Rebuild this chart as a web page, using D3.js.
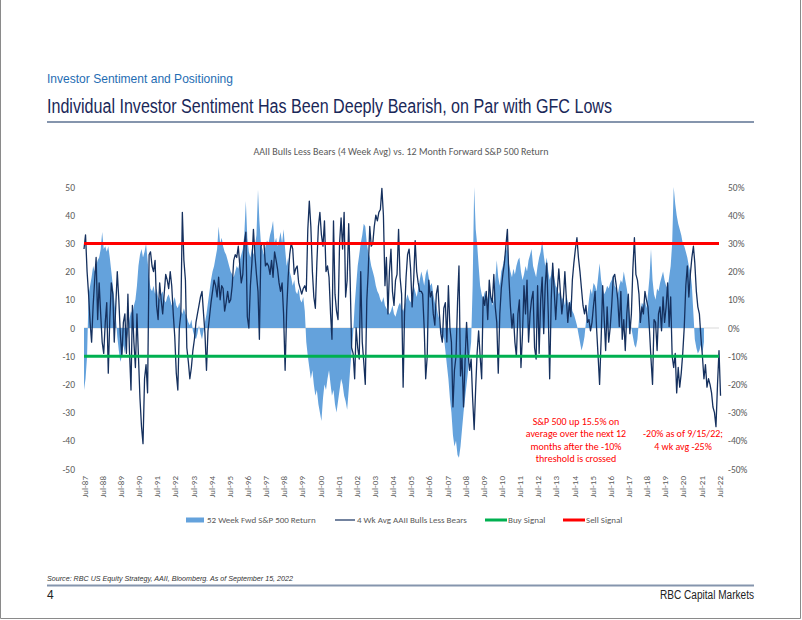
<!DOCTYPE html>
<html><head><meta charset="utf-8">
<script src="https://cdn.jsdelivr.net/npm/d3@7"></script>
<style>
html,body{margin:0;padding:0;background:#fff;}
svg{display:block;}
</style></head><body>
<svg id="chart" width="802" height="620"></svg>
<script>
// ---------------- DATA ----------------
const seriesStart = "1987-07"; // monthly series start
// 52 week forward S&P 500 return (%), monthly from Jul-87
const fwdReturn = [
-22,-18,-10,12,15,18,22,20,22,24,25,28,34,28,29,27,29,25,20,15,10,
4,-3,-8,-12,-10,-6,-9,-5,-2,3,6,5,8,10,15,
22,26,28,25,27,30,24,18,14,
13,15,12,14,11,10,12,13,10,9,11,12,10,8,9,11,8,7,9,6,5,7,5,4,
2,1,3,-1,-3,-4,-2,1,-2,-4,-1,2,5,
9,13,17,20,22,25,28,
36,30,32,29,27,26,24,22,20,19,
18,20,22,21,24,26,28,33,45,
32,27,25,28,26,29,33,49,38,
30,28,26,29,31,30,
33,35,38,30,32,29,31,34,30,
35,28,22,25,20,18,
15,17,13,12,14,10,9,11,6,
-5,-10,-14,-18,-15,-20,-24,-22,-27,-30,-33,-25,-20,-22,-18,-15,-20,-24,-22,-27,-30,-26,-22,-18,-20,-24,-26,-29,-22,-15,-8,-2,
8,15,22,26,30,33,37,36,30,27,25,22,20,18,15,13,12,10,9,11,8,7,6,5,6,8,5,4,6,8,9,7,6,8,10,12,10,9,12,15,13,11,14,17,20,18,15,19,21,18,15,16,12,9,8,5,3,-1,-5,-3,-8,-13,-18,-25,-30,-38,-42,-40,-45,-46,-42,-36,-30,
-25,-20,-15,-10,-5,15,50,35,30,22,
15,12,10,13,9,11,14,12,8,10,17,24,18,15,20,
22,25,27,29,23,20,18,21,19,22,24,25,20,17,19,22,20,24,26,28,22,20,18,22,25,27,31,26,22,25,20,17,19,23,18,15,14,12,
13,10,11,8,12,9,7,10,6,5,3,1,-2,
-5,-8,-6,-3,2,
5,10,14,12,16,15,13,18,23,17,14,12,13,15,14,16,17,19,15,14,12,15,17,16,20,17,14,10,
4,0,-3,-6,-7,-4,
3,6,9,8,10,7,12,18,28,17,
12,10,14,13,16,18,20,17,15,14,18,22,30,
50,44,40,37,35,33,30,29,27,25,22,20,15,5,
-4,-7,-9,-8,-6,-9,-5
];
// 4 week average AAII bulls less bears, monthly from Jul-87
const bullsLessBears = [
28,33,20,12,2,-5,8,17,25,3,16,5,-5,-9,2,9,-16,3,16,12,-5,8,20,10,-2,-10,2,5,-9,12,-8,-22,8,-5,-14,5,-10,-25,-35,-41,-18,-13,-23,26,27,22,20,24,8,3,16,10,5,12,19,17,14,20,15,5,-3,-16,-22,0,5,41,24,17,-7,-12,-18,-14,-8,-4,2,5,8,11,13,5,-2,-15,-1,
4,9,13,17,15,11,18,10,15,14,6,9,13,9,10,15,24,26,25,29,22,16,19,30,34,4,0,15,23,35,26,19,13,-4,29,30,30,22,23,22,19,24,18,27,24,21,16,13,16,5,-15,6,18,26,30,28,19,21,22,16,14,12,14,15,13,35,45,36,20,11,7,23,36,41,33,29,38,20,22,18,5,-4,38,12,
6,3,30,39,28,41,11,17,37,18,-7,-9,-18,0,-7,-11,20,-5,-12,-20,10,20,36,29,30,36,40,38,41,42,49.5,40,15,25,5,20,28,13,8,17,19,35,18,12,-21,5,18,26,28,21,7.5,17,31,20,16,13,13,12,0,-18,-10,17,11,13,5,1,12,15,5,-2,-5,7,9,-5,15,0,-5,-28,-15,-10,9,
22,-17,-10,-28,-12,2,-9,-15,-11,-25,-36,-21,-9,-1,-10,-18,11,
8,13,3,17,11,9,19,7.5,2,-16,5,14,19,23,29,35,18,7.5,0,5,-5,-10,5,10,-14,-2,15,5,17,-5,5,10,13,-7,-11,15,-9,10,18,-2,15,23,5,-18,10,23,13,3,13,21,13,5,10,20,10,2,9,4,17,23,28,32,25,20,14,8,5,8,2,3,-1,
2,8,13,0,-10,-20,-4,15,4,-8,7.5,-5,0,8,18,19,15,10,0.5,13,-4,3,-8,5,12,-2,5,21,32,19,17,12,2,7.5,5,13,10,7.5,-1,-11,-20,3,2,-8,5,7.5,-1,11,2,7.5,16,0.5,11,-10,-14,-9,-23,-14,-21,-16,-9,0.5,15,22,11,19,25,29,23,13,7.5,5,-3,-10,-18,-13,-21,-18,-20,-23,-28,-30,-35,-20,-8,-24
];
const xTickLabels = ["Jul-87","Jul-88","Jul-89","Jul-90","Jul-91","Jul-92","Jul-93","Jul-94","Jul-95","Jul-96","Jul-97","Jul-98","Jul-99","Jul-00","Jul-01","Jul-02","Jul-03","Jul-04","Jul-05","Jul-06","Jul-07","Jul-08","Jul-09","Jul-10","Jul-11","Jul-12","Jul-13","Jul-14","Jul-15","Jul-16","Jul-17","Jul-18","Jul-19","Jul-20","Jul-21","Jul-22"];
const yTicks = [50,40,30,20,10,0,-10,-20,-30,-40,-50];
const buySignal = -10;
const sellSignal = 30;
const legendLabels = ["52 Week Fwd S&P 500 Return","4 Wk Avg AAII Bulls Less Bears","Buy Signal","Sell Signal"];
const noteLeft = ["S&P 500 up 15.5% on","average over the next 12","months after the -10%","threshold is crossed"];
const noteRight = ["-20% as of 9/15/22;","4 wk avg -25%"];
const chartTitle = "AAII Bulls Less Bears (4 Week  Avg) vs. 12 Month Forward S&P 500 Return";
const sectionLabel = "Investor Sentiment and Positioning";
const headline = "Individual Investor Sentiment Has Been Deeply Bearish, on Par with GFC Lows";
const sourceNote = "Source: RBC US Equity Strategy, AAII, Bloomberg. As of September 15, 2022";
const pageNumber = "4";
const brand = "RBC Capital Markets";

// ---------------- DRAW ----------------
const svg = d3.select("#chart");
const chartFont = "Carlito, Lato, 'Open Sans', sans-serif";
const headFont = "'Liberation Sans Narrow','Arial Narrow','Liberation Sans',Arial,sans-serif";
const grey = "#595959";
const areaColor = "#64a2dc";
const lineColor = "#15305e";

// page frame
svg.append("path").attr("d","M0.5,0 V618.5 H800.5 V0").attr("fill","none").attr("stroke","#8a8a8a").attr("stroke-width",1);

// header
svg.append("text").attr("x",47).attr("y",83).text(sectionLabel)
  .attr("font-family",headFont).attr("font-size",13.5).attr("fill","#1f6db3")
  .attr("textLength",186).attr("lengthAdjust","spacingAndGlyphs");
svg.append("text").attr("x",47).attr("y",112.5).text(headline)
  .attr("font-family",headFont).attr("font-size",19.5).attr("fill","#1a2859")
  .attr("textLength",565).attr("lengthAdjust","spacingAndGlyphs");
svg.append("line").attr("x1",47).attr("x2",754).attr("y1",122).attr("y2",122).attr("stroke","#8595ad").attr("stroke-width",2);

// footer
svg.append("text").attr("x",47).attr("y",581).text(sourceNote)
  .attr("font-family",headFont).attr("font-size",8).attr("font-style","italic").attr("fill","#333")
  .attr("textLength",246).attr("lengthAdjust","spacingAndGlyphs");
svg.append("line").attr("x1",47).attr("x2",754).attr("y1",585.5).attr("y2",585.5).attr("stroke","#8595ad").attr("stroke-width",2);
svg.append("text").attr("x",47).attr("y",599).text(pageNumber)
  .attr("font-family",headFont).attr("font-size",12).attr("fill","#222");
svg.append("text").attr("x",754).attr("y",599).attr("text-anchor","end").text(brand)
  .attr("font-family",headFont).attr("font-size",12).attr("fill","#222")
  .attr("textLength",94).attr("lengthAdjust","spacingAndGlyphs");

// chart title
svg.append("text").attr("x",401).attr("y",155).attr("text-anchor","middle").text(chartTitle)
  .attr("font-family",chartFont).attr("font-size",10).attr("fill",grey);

// scales
const parseMonth = d3.timeParse("%Y-%m");
const t0 = parseMonth(seriesStart);
const monthDate = i => d3.timeMonth.offset(t0, i);
const parseTick = d3.timeParse("%b-%y");
const tickDates = xTickLabels.map(parseTick);
const x = d3.scaleTime().domain([tickDates[0], tickDates[tickDates.length-1]]).range([84, 719]);
const y = d3.scaleLinear().domain([-50, 50]).range([469, 187]);

// zero line
svg.append("line").attr("x1",x.range()[0]).attr("x2",x.range()[1]).attr("y1",y(0)).attr("y2",y(0))
  .attr("stroke","#d9d9d9").attr("stroke-width",1);

// area
const area = d3.area().x((d,i)=>x(monthDate(i))).y0(y(0)).y1(d=>y(d));
svg.append("path").datum(fwdReturn).attr("d",area).attr("fill",areaColor);

// sentiment line
const line = d3.line().x((d,i)=>x(monthDate(i))).y(d=>y(d));
svg.append("path").datum(bullsLessBears).attr("d",line).attr("fill","none")
  .attr("stroke",lineColor).attr("stroke-width",1.3).attr("stroke-linejoin","round");

// signals
[[buySignal,"#00b050"],[sellSignal,"#ff0000"]].forEach(([v,c])=>{
  svg.append("line").attr("x1",x.range()[0]).attr("x2",x.range()[1]).attr("y1",y(v)).attr("y2",y(v))
    .attr("stroke",c).attr("stroke-width",3);
});

// axes
const ax = svg.append("g").attr("transform","translate(0,472)")
  .call(d3.axisBottom(x).tickValues(tickDates).tickFormat(d3.timeFormat("%b-%y")).tickSize(0));
ax.select(".domain").remove();
ax.selectAll("text").attr("transform","rotate(-90)").attr("x",-4).attr("y",0).attr("dy","0.35em")
  .style("text-anchor","end").attr("font-family",chartFont).attr("font-size",9).attr("fill",grey);

const ayl = svg.append("g").attr("transform","translate(75,0)")
  .call(d3.axisLeft(y).tickValues(yTicks).tickFormat(d=>String(d)).tickSize(0).tickPadding(0));
ayl.select(".domain").remove();
ayl.selectAll("text").attr("font-family",chartFont).attr("font-size",9.5).attr("fill",grey);

const ayr = svg.append("g").attr("transform","translate(728,0)")
  .call(d3.axisRight(y).tickValues(yTicks).tickFormat(d=>d+"%").tickSize(0).tickPadding(0));
ayr.select(".domain").remove();
ayr.selectAll("text").attr("font-family",chartFont).attr("font-size",9.5).attr("fill",grey);

// legend
const lg = svg.append("g").attr("font-family",chartFont).attr("font-size",9).attr("fill",grey);
const ly = 520;
lg.append("rect").attr("x",186).attr("y",ly-2.5).attr("width",18).attr("height",5).attr("fill",areaColor);
lg.append("text").attr("x",207).attr("y",ly).attr("dy","0.35em").text(legendLabels[0]);
lg.append("line").attr("x1",335).attr("x2",355).attr("y1",ly).attr("y2",ly).attr("stroke",lineColor).attr("stroke-width",1.2);
lg.append("text").attr("x",357).attr("y",ly).attr("dy","0.35em").text(legendLabels[1]);
lg.append("line").attr("x1",485).attr("x2",507).attr("y1",ly).attr("y2",ly).attr("stroke","#00b050").attr("stroke-width",3);
lg.append("text").attr("x",508).attr("y",ly).attr("dy","0.35em").text(legendLabels[2]);
lg.append("line").attr("x1",563).attr("x2",585).attr("y1",ly).attr("y2",ly).attr("stroke","#ff0000").attr("stroke-width",3);
lg.append("text").attr("x",586).attr("y",ly).attr("dy","0.35em").text(legendLabels[3]);

// annotations
const nl = svg.append("g").attr("font-family",chartFont).attr("font-size",10).attr("fill","#ff0000").attr("text-anchor","middle");
noteLeft.forEach((s,i)=>nl.append("text").attr("x",576).attr("y",421+i*12.6).attr("dy","0.35em").text(s));
noteRight.forEach((s,i)=>nl.append("text").attr("x",683).attr("y",433.5+i*12.6).attr("dy","0.35em").text(s));
</script>
</body></html>
